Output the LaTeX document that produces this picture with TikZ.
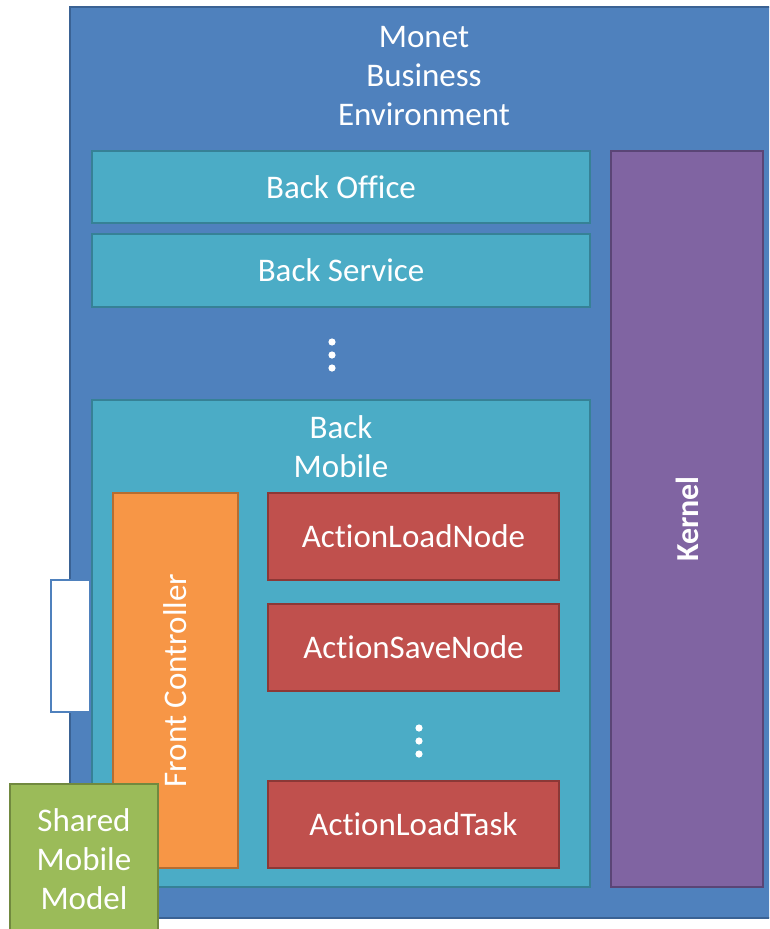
\documentclass[tikz,border=0pt]{standalone}
\usepackage{fontspec}
\setmainfont{Carlito}[Ligatures=NoCommon]
\definecolor{envfill}{HTML}{4F81BD}
\definecolor{envline}{HTML}{3A6294}
\definecolor{tealfill}{HTML}{4BACC6}
\definecolor{tealline}{HTML}{368196}
\definecolor{kernfill}{HTML}{8064A2}
\definecolor{kernline}{HTML}{5A4576}
\definecolor{actfill}{HTML}{C0504D}
\definecolor{actline}{HTML}{8C3836}
\definecolor{ctrlfill}{HTML}{F79646}
\definecolor{ctrlline}{HTML}{B66D31}
\definecolor{modfill}{HTML}{9BBB59}
\definecolor{modline}{HTML}{71893F}
% "Action" with the t-i pair kept apart
\newcommand{\actword}{Act\kern0pt ion}
\begin{document}
\begin{tikzpicture}[x=1pt,y=-1pt,
  box/.style={draw, line width=2.7pt, inner sep=0pt, outer sep=0pt,
    anchor=north west, text=white, align=center,
    font=\fontsize{33}{39}\selectfont},
  lbl/.style={text=white, align=center, inner sep=0pt,
    font=\fontsize{33}{39}\selectfont},
  dot/.style={fill=white}]
\useasboundingbox (0,0) rectangle (769,929);
\clip (0,0) rectangle (769,929);

% environment frame
\node[box, fill=envfill, draw=envline, minimum width=730, minimum height=911] (env) at (70,7) {};
\node[lbl] (envtitle) at (424,76) {Monet\\Business\\Environment};

% port on the left side of the frame
\node[box, fill=white, draw=envfill, line width=2pt, minimum width=39, minimum height=132] (port) at (51,580) {};

% back ends
\node[box, fill=tealfill, draw=tealline, minimum width=498, minimum height=72] (office) at (92,151) {Back Office};
\node[box, fill=tealfill, draw=tealline, minimum width=498, minimum height=73] (service) at (92,234) {Back Service};
\fill[dot] (332,342) circle (3.6pt) (332,355) circle (3.6pt) (332,368) circle (3.6pt);

% mobile back end
\node[box, fill=tealfill, draw=tealline, minimum width=498, minimum height=487] (mobile) at (92,400) {};
\node[lbl] (mobiletitle) at (341,447) {Back\\Mobile};

\node[box, fill=ctrlfill, draw=ctrlline, minimum width=125, minimum height=375] (ctrl) at (113,493) {};
\node[lbl, rotate=90] (ctrltext) at (ctrl.center) {Front Controller};

\node[box, fill=actfill, draw=actline, minimum width=291, minimum height=87] (loadnode) at (268,493) {\actword LoadNode};
\node[box, fill=actfill, draw=actline, minimum width=291, minimum height=87] (savenode) at (268,604) {\actword SaveNode};
\fill[dot] (419,728) circle (3.6pt) (419,741) circle (3.6pt) (419,754) circle (3.6pt);
\node[box, fill=actfill, draw=actline, minimum width=291, minimum height=87] (loadtask) at (268,781) {\actword LoadTask};

% kernel
\node[box, fill=kernfill, draw=kernline, minimum width=152, minimum height=736] (kernel) at (611,151) {};
\node[lbl, rotate=90, font=\fontsize{32}{38}\selectfont\bfseries] (kerneltext) at (kernel.center) {Kernel};

% shared model
\node[box, fill=modfill, draw=modline, minimum width=148, minimum height=160] (model) at (10,784) {};
\node[lbl] (modeltext) at (84,859) {Shared\\Mobile\\Model};
\end{tikzpicture}
\end{document}
